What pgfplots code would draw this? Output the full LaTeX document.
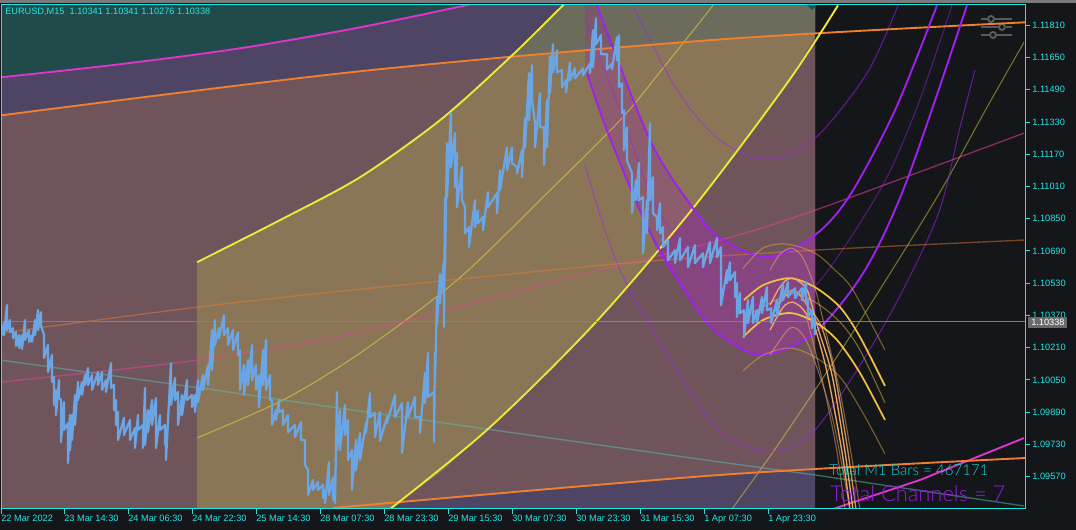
\documentclass[border=0pt]{standalone}
\usepackage{fontspec}
\setmainfont{Liberation Sans}
\newfontfamily\thinfont{Lato Light}
\usepackage{pgfplots}
\pgfplotsset{compat=1.18}
\definecolor{bgdark}{HTML}{14161A}
\definecolor{topgrey}{HTML}{7A7A7A}
\definecolor{frameaqua}{HTML}{1FE8E8}
\definecolor{zoneteal}{HTML}{214B4B}
\definecolor{zonepurple}{HTML}{4E4565}
\definecolor{zonemauve}{HTML}{6F555B}
\definecolor{zonetan}{HTML}{8A7657}
\definecolor{zonegrey}{HTML}{6D6C5C}
\definecolor{bandtan}{HTML}{8D5C6E}
\definecolor{bandmauve}{HTML}{86457F}
\definecolor{bandgrey}{HTML}{7A5A6A}
\definecolor{cmagenta}{HTML}{E035CC}
\definecolor{corange}{HTML}{F08030}
\definecolor{cyellow}{HTML}{EDE83A}
\definecolor{cpurple}{HTML}{A020F0}
\definecolor{cgold}{HTML}{F0C040}
\definecolor{cbundle}{HTML}{F5AE68}
\definecolor{cpink}{HTML}{E8409C}
\definecolor{cgreyline}{HTML}{58C0B0}
\definecolor{cprice}{HTML}{6F8A9C}
\definecolor{cblue}{HTML}{6BA5E3}
\definecolor{iconGrey}{HTML}{5A5A5A}
\begin{document}
\begin{tikzpicture}
\useasboundingbox (0,0) rectangle (807pt,397.5pt);
\fill[bgdark] (0,0) rectangle (807pt,397.5pt);
\fill[topgrey] (0,395.5pt) rectangle (807pt,397.5pt);
\begin{scope}[x=0.75pt,y=-0.75pt,yshift=397.5pt]
\draw[iconGrey, line width=2pt] (981,19) -- (1012,19) (981,27) -- (1012,27) (981,35) -- (1012,35);
\foreach \kx/\ky in {991/19,1002/27,993/35} \draw[iconGrey, line width=1.5pt, fill=bgdark] (\kx,\ky) circle (3);
\end{scope}
\begin{axis}[
  at={(0.75pt,15.75pt)}, anchor=south west,
  scale only axis, width=768pt, height=378pt,
  xmin=1, xmax=1025, ymin=1.09409, ymax=1.11911,
  axis line style={frameaqua, line width=0.75pt},
  axis on top,
  tick style={frameaqua, line width=0.75pt},
  tick align=outside, major tick length=3.5pt,
  xtick pos=bottom, ytick pos=right,
  yticklabel pos=right,
  xtick={1,64,128,192,256,320,384,448,512,576,640,704,768},
  xticklabels={22 Mar 2022,23 Mar 14:30,24 Mar 06:30,24 Mar 22:30,25 Mar 14:30,28 Mar 07:30,28 Mar 23:30,29 Mar 15:30,30 Mar 07:30,30 Mar 23:30,31 Mar 15:30,1 Apr 07:30,1 Apr 23:30},
  ytick={1.09570,1.09730,1.09890,1.10050,1.10210,1.10370,1.10530,1.10690,1.10850,1.11010,1.11170,1.11330,1.11490,1.11650,1.11810},
  yticklabels={1.09570,1.09730,1.09890,1.10050,1.10210,1.10370,1.10530,1.10690,1.10850,1.11010,1.11170,1.11330,1.11490,1.11650,1.11810},
  xticklabel style={anchor=north west, xshift=-3.3pt, yshift=2.4pt, text=frameaqua, font=\fontsize{6.9}{8}\selectfont},
  yticklabel style={anchor=west, xshift=-1.5pt, text=frameaqua, font=\fontsize{6.9}{8}\selectfont},
]
% zones
\addplot[fill=zoneteal, draw=none] coordinates {(1,1.09409)(815,1.09409)(815,1.11911)(1,1.11911)};
\addplot[fill=zonepurple, draw=none] coordinates {(1,1.09409)(1,1.11552)(120,1.11617)(240,1.11696)(360,1.11800)(475,1.11919)(815,1.11919)(815,1.09409)};
\addplot[fill=zonemauve, draw=none] coordinates {(1,1.11363)(180,1.11473)(360,1.11582)(540,1.11661)(720,1.11740)(815,1.11770)(815,1.09613)(720,1.09578)(525,1.09494)(333,1.09414)(200,1.09355)(1,1.09266)};
\addplot[fill=zonetan, draw=none] coordinates {(197,1.09404)(197,1.10634)(280,1.10843)(360,1.11056)(440,1.11339)(510,1.11651)(563,1.11909)(575,1.11964)(815,1.11964)(815,1.11751)(787,1.11522)(740,1.11200)(693,1.10902)(595,1.10332)(540,1.10060)(488,1.09806)(440,1.09590)(390,1.09409)};
\addplot[fill=zonegrey, draw=none] coordinates {(510,1.11651)(563,1.11909)(575,1.11964)(815,1.11964)(815,1.11770)(720,1.11740)(600,1.11696)};
% purple channel shading
\addplot[fill=bandtan, draw=none] coordinates {(585,1.11909)(585,1.11572)(587,1.11572)(608,1.11275)(627,1.11056)(650,1.10783)(657,1.10679)(693,1.10902)(670,1.11066)(650,1.11240)(623,1.11552)(597,1.11909)};
\addplot[fill=bandgrey, draw=none] coordinates {(585,1.11909)(585,1.11681)(613,1.11691)(610,1.11736)(597,1.11909)};
\addplot[fill=bandmauve, draw=none] coordinates {(657,1.10679)(662,1.10644)(693,1.10431)(720,1.10272)(740,1.10208)(763,1.10173)(787,1.10198)(815,1.10287)(815,1.10769)(797,1.10704)(767,1.10659)(740,1.10684)(720,1.10754)(693,1.10902)};
% thin channel lines
\addplot[cyellow, opacity=0.5, line width=0.8pt, smooth] coordinates {(197,1.09762)(283,1.09950)(360,1.10183)(457,1.10545)(543,1.10957)(620,1.11339)(663,1.11597)(713,1.11909)};
\addplot[cyellow, opacity=0.45, line width=0.8pt, smooth] coordinates {(732,1.09409)(773,1.09692)(815,1.10000)(865,1.10381)(937,1.10957)(987,1.11403)(1024,1.11726)};
\addplot[cpurple, opacity=0.55, line width=0.8pt, smooth] coordinates {(633,1.11909)(677,1.11488)(720,1.11240)(767,1.11145)(815,1.11250)(867,1.11572)(898,1.11909)};
\addplot[cpurple, opacity=0.45, line width=0.8pt, smooth] coordinates {(585,1.11845)(620,1.11388)(660,1.10877)(720,1.10515)(767,1.10421)(815,1.10515)(880,1.10992)(917,1.11403)(952,1.11909)};
\addplot[cpurple, opacity=0.55, line width=0.8pt, smooth] coordinates {(585,1.11116)(620,1.10595)(683,1.10049)(720,1.09791)(770,1.09692)(815,1.09801)(883,1.10312)(937,1.10857)(960,1.11304)(975,1.11587)};
\addplot[cpink, opacity=0.55, line width=1pt, smooth] coordinates {(1,1.10039)(197,1.10148)(360,1.10287)(560,1.10545)(720,1.10744)(815,1.10892)(1024,1.11275)};
\addplot[corange, opacity=0.45, line width=1pt, smooth] coordinates {(1,1.10283)(197,1.10411)(360,1.10500)(627,1.10630)(815,1.10694)(1024,1.10744)};
\addplot[cgreyline, opacity=0.5, line width=1pt] coordinates {(1,1.10148)(200,1.10010)(360,1.09895)(720,1.09642)(815,1.09578)(1024,1.09424)};
% bold bands
\addplot[cmagenta, line width=1.4pt, smooth] coordinates {(1,1.11552)(120,1.11617)(240,1.11696)(360,1.11800)(475,1.11919)};
\addplot[cmagenta, line width=1.4pt] coordinates {(833,1.09409)(920,1.09553)(1024,1.09761)};
\addplot[corange, line width=1.4pt, smooth] coordinates {(1,1.11363)(360,1.11582)(720,1.11740)(1025,1.11825)};
\addplot[corange, line width=1.4pt, smooth] coordinates {(333,1.09414)(720,1.09578)(1025,1.09662)};
\addplot[cyellow, line width=1.4pt, smooth] coordinates {(197,1.10634)(280,1.10843)(360,1.11056)(440,1.11339)(510,1.11651)(563,1.11909)(575,1.11964)};
\addplot[cyellow, line width=1.4pt, smooth] coordinates {(385,1.09389)(488,1.09806)(595,1.10332)(693,1.10902)(787,1.11522)(838,1.11909)};
\addplot[cpurple, line width=1.4pt, smooth] coordinates {(597,1.11909)(650,1.11240)(693,1.10902)(720,1.10754)(767,1.10659)(815,1.10769)(850,1.10967)(895,1.11388)(937,1.11909)};
\addplot[cpurple, line width=1.4pt, smooth] coordinates {(587,1.11572)(608,1.11275)(650,1.10783)(693,1.10431)(720,1.10272)(763,1.10173)(815,1.10287)(865,1.10595)(907,1.11041)(967,1.11909)};
% short cycle arcs
\addplot[cgold, opacity=0.45, line width=0.8pt, smooth] coordinates {(743,1.10604)(763,1.10704)(787,1.10724)(815,1.10679)(835,1.10595)(853,1.10496)(885,1.10198)};
\addplot[cgold, opacity=0.5, line width=0.8pt, smooth] coordinates {(745,1.10362)(790,1.10476)(815,1.10436)(840,1.10337)(860,1.10198)(885,1.09935)};
\addplot[cgold, opacity=0.45, line width=0.8pt, smooth] coordinates {(743,1.10094)(763,1.10173)(790,1.10208)(815,1.10163)(840,1.10064)(863,1.09885)(885,1.09682)};
\addplot[cgold, line width=1.3pt, smooth] coordinates {(744,1.10446)(763,1.10520)(790,1.10555)(815,1.10510)(840,1.10411)(860,1.10263)(885,1.10020)};
\addplot[cgold, line width=1.3pt, smooth] coordinates {(743,1.10262)(763,1.10347)(790,1.10382)(815,1.10337)(837,1.10248)(860,1.10084)(885,1.09851)};
\addplot[cbundle, opacity=0.5, line width=0.8pt, smooth] coordinates {(770,1.10595)(780,1.10674)(792,1.10704)(803,1.10654)(815,1.10505)(825,1.10307)(840,1.09990)(853,1.09627)(860,1.09404)};
\addplot[cbundle, opacity=0.5, line width=0.8pt, smooth] coordinates {(770,1.10173)(790,1.10307)(803,1.10272)(815,1.10138)(833,1.09851)(850,1.09404)};
\addplot[cbundle, opacity=0.5, line width=0.8pt, smooth] coordinates {(806,1.10371)(813,1.10238)(825,1.09990)(837,1.09692)(845,1.09404)};
\addplot[cbundle, opacity=0.95, line width=1pt, smooth] coordinates {(770,1.10421)(778,1.10496)(785,1.10540)(792,1.10555)(800,1.10535)(808,1.10486)(818,1.10307)(832,1.10074)(845,1.09692)(853,1.09404)};
\addplot[cbundle, opacity=0.8, line width=1pt, smooth] coordinates {(770,1.10357)(792,1.10496)(810,1.10400)(822,1.10307)(835,1.10074)(848,1.09692)(856,1.09404)};
\addplot[cbundle, opacity=0.95, line width=1pt, smooth] coordinates {(770,1.10297)(778,1.10371)(785,1.10421)(792,1.10436)(800,1.10416)(808,1.10366)(815,1.10307)(827,1.10089)(842,1.09692)(850,1.09404)};
% current price line
\addplot[cprice, opacity=0.9, line width=0.75pt] coordinates {(1,1.10338)(1025,1.10338)};
% EURUSD M15
\addplot[cblue, line width=1.7pt, line join=round] coordinates {
(0,1.10288)(0,1.10248)(4,1.10332)(4,1.10272)(7,1.10421)(7,1.10297)(10,1.10347)(10,1.10287)(13,1.10307)(13,1.10257)(16,1.10287)(16,1.10218)
(19,1.10272)(19,1.10208)(22,1.10272)(22,1.10203)(25,1.10347)(25,1.10248)(29,1.10297)(29,1.10238)(32,1.10272)(32,1.10238)(35,1.10347)(35,1.10272)
(38,1.10396)(38,1.10297)(41,1.10386)(41,1.10322)(44,1.10272)(44,1.10158)(48,1.10223)(48,1.10089)(52,1.10173)(52,1.10039)(54,1.10064)(54,1.09925)
(56,1.10000)(56,1.09875)(59,1.10049)(59,1.09960)(61,1.09950)(61,1.09742)(64,1.09940)(64,1.09801)(68,1.09836)(68,1.09637)(70,1.09875)(70,1.09702)
(72,1.09875)(72,1.09752)(75,1.09975)(75,1.09826)(78,1.10039)(78,1.09950)(82,1.10039)(82,1.09975)(85,1.10074)(85,1.10025)(88,1.10109)(88,1.10025)
(92,1.10074)(92,1.10000)(98,1.10089)(98,1.10025)(102,1.10089)(102,1.10000)(106,1.10049)(106,1.09990)(111,1.10133)(111,1.10010)(114,1.10025)(114,1.09900)
(116,1.09950)(116,1.09826)(118,1.09890)(118,1.09752)(124,1.09861)(124,1.09776)(130,1.09851)(130,1.09752)(135,1.09811)(135,1.09712)(138,1.09875)(138,1.09801)
(143,1.09826)(143,1.09712)(145,1.10010)(145,1.09727)(148,1.09900)(148,1.09791)(152,1.09950)(152,1.09826)(156,1.09960)(156,1.09712)(160,1.09875)(160,1.09801)
(165,1.09826)(165,1.09727)(166,1.09791)(166,1.09652)(171,1.10133)(171,1.09925)(175,1.10059)(175,1.09950)(178,1.09990)(178,1.09826)(182,1.09975)(182,1.09875)
(187,1.10049)(187,1.09950)(192,1.09975)(192,1.09915)(195,1.09975)(195,1.09890)(198,1.10049)(198,1.09940)(203,1.10074)(203,1.10000)(208,1.10123)(208,1.10025)
(212,1.10297)(212,1.10099)(215,1.10347)(215,1.10223)(219,1.10307)(219,1.10257)(224,1.10371)(224,1.10272)(228,1.10307)(228,1.10223)(233,1.10297)(233,1.10198)
(238,1.10287)(238,1.10173)(240,1.10198)(240,1.10000)(244,1.10123)(244,1.09975)(248,1.10148)(248,1.10025)(252,1.10223)(252,1.10049)(256,1.10123)(256,1.10000)
(259,1.10074)(259,1.09915)(263,1.10198)(263,1.10025)(266,1.10248)(266,1.10000)(270,1.10074)(270,1.09950)(272,1.09950)(272,1.09826)(276,1.09900)(276,1.09851)
(279,1.09950)(279,1.09890)(283,1.09900)(283,1.09826)(288,1.09875)(288,1.09791)(295,1.09826)(295,1.09766)(301,1.09841)(301,1.09752)(305,1.09752)(305,1.09627)
(308,1.09603)(308,1.09479)(313,1.09553)(313,1.09504)(318,1.09543)(318,1.09504)(323,1.09528)(323,1.09464)(325,1.09504)(325,1.09439)(329,1.09642)(329,1.09479)
(333,1.09563)(333,1.09454)(335,1.09578)(335,1.09439)(337,1.09990)(337,1.09702)(340,1.09900)(340,1.09702)(345,1.09925)(345,1.09776)(348,1.09851)(348,1.09652)
(352,1.09702)(352,1.09504)(356,1.09752)(356,1.09603)(360,1.09786)(360,1.09652)(366,1.09836)(366,1.09786)(370,1.09985)(370,1.09865)(375,1.09885)(375,1.09766)
(380,1.09890)(380,1.09747)(387,1.09865)(387,1.09836)(395,1.09975)(395,1.09865)(402,1.09935)(402,1.09687)(408,1.09940)(408,1.09865)(415,1.09965)(415,1.09865)
(420,1.09865)(420,1.09786)(425,1.10084)(425,1.09935)(428,1.10183)(428,1.09965)(434,1.09990)(434,1.09742)(435,1.10183)(435,1.10049)(437,1.10456)(437,1.10332)
(440,1.10575)(440,1.10431)(444,1.10644)(444,1.10312)(445,1.10952)(445,1.10595)(447,1.11225)(447,1.10957)(451,1.11374)(451,1.11106)(455,1.11275)(455,1.11007)
(457,1.11175)(457,1.10907)(462,1.11106)(462,1.10942)(465,1.10907)(465,1.10778)(469,1.10808)(469,1.10709)(475,1.10942)(475,1.10808)(478,1.10892)(478,1.10828)
(483,1.10858)(483,1.10793)(488,1.10982)(488,1.10907)(497,1.10977)(497,1.10877)(500,1.11091)(500,1.10992)(507,1.11205)(507,1.11091)(512,1.11205)(512,1.11126)
(517,1.11106)(517,1.11076)(522,1.11190)(522,1.11056)(525,1.11349)(525,1.11205)(529,1.11572)(529,1.11339)(532,1.11612)(532,1.11438)(535,1.11324)(535,1.11205)
(540,1.11473)(540,1.11304)(544,1.11304)(544,1.11116)(547,1.11438)(547,1.11205)(550,1.11656)(550,1.11473)(553,1.11716)(553,1.11577)(557,1.11686)(557,1.11577)
(562,1.11587)(562,1.11503)(566,1.11537)(566,1.11478)(570,1.11626)(570,1.11537)(575,1.11597)(575,1.11547)(583,1.11597)(583,1.11562)(590,1.11621)(590,1.11572)
(593,1.11785)(593,1.11602)(596,1.11845)(596,1.11716)(601,1.11761)(601,1.11666)(607,1.11666)(607,1.11592)(612,1.11621)(612,1.11592)(617,1.11751)(617,1.11636)
(619,1.11761)(619,1.11503)(622,1.11522)(622,1.11374)(624,1.11388)(624,1.11190)(627,1.11304)(627,1.11140)(632,1.11076)(632,1.10877)(636,1.11041)(636,1.10942)
(639,1.11126)(639,1.10942)(643,1.10957)(643,1.10679)(647,1.10942)(647,1.10778)(650,1.11324)(650,1.10942)(653,1.11056)(653,1.10877)(657,1.10858)(657,1.10793)
(660,1.10927)(660,1.10778)(663,1.10808)(663,1.10709)(668,1.10744)(668,1.10644)(675,1.10694)(675,1.10630)(680,1.10754)(680,1.10644)(688,1.10709)(688,1.10610)
(695,1.10719)(695,1.10630)(703,1.10679)(703,1.10610)(710,1.10734)(710,1.10630)(717,1.10754)(717,1.10659)(721,1.10709)(721,1.10421)(727,1.10595)(727,1.10530)
(730,1.10634)(730,1.10545)(735,1.10585)(735,1.10461)(737,1.10530)(737,1.10362)(740,1.10481)(740,1.10381)(744,1.10396)(744,1.10262)(748,1.10446)(748,1.10332)
(753,1.10461)(753,1.10332)(757,1.10396)(757,1.10332)(762,1.10461)(762,1.10381)(767,1.10511)(767,1.10396)(771,1.10406)(771,1.10332)(777,1.10446)(777,1.10362)
(783,1.10530)(783,1.10446)(788,1.10535)(788,1.10461)(795,1.10505)(795,1.10456)(802,1.10505)(802,1.10446)(806,1.10535)(806,1.10431)(808,1.10446)(808,1.10362)
(812,1.10396)(812,1.10307)(815,1.10362)(815,1.10272)};
\end{axis}
\begin{scope}[x=0.75pt,y=-0.75pt,yshift=397.5pt]
\fill[teal!70!black] (807,5) -- (817,5) -- (812,10) -- cycle;
\node[anchor=west, inner sep=0pt, text=frameaqua, font=\fontsize{6.9}{8}\selectfont] at (5,12) {EURUSD,M15\ \ 1.10341 1.10341 1.10276 1.10338};
\fill[gray!80!bgdark] (1028,317) rectangle (1067,328);
\node[anchor=west, inner sep=0pt, text=white, font=\fontsize{6.9}{8}\selectfont] at (1031,322.5) {1.10338};
\node[anchor=west, inner sep=0pt, text=frameaqua!90!black, font=\thinfont\fontsize{11.3}{13}\selectfont] at (829,470) {Total M1 Bars = 467171};
\node[anchor=west, inner sep=0pt, text=cpurple!90!black, font=\thinfont\fontsize{16.4}{19}\selectfont] at (830,494) {Total Channels = 7};
\end{scope}
\end{tikzpicture}
\end{document}
